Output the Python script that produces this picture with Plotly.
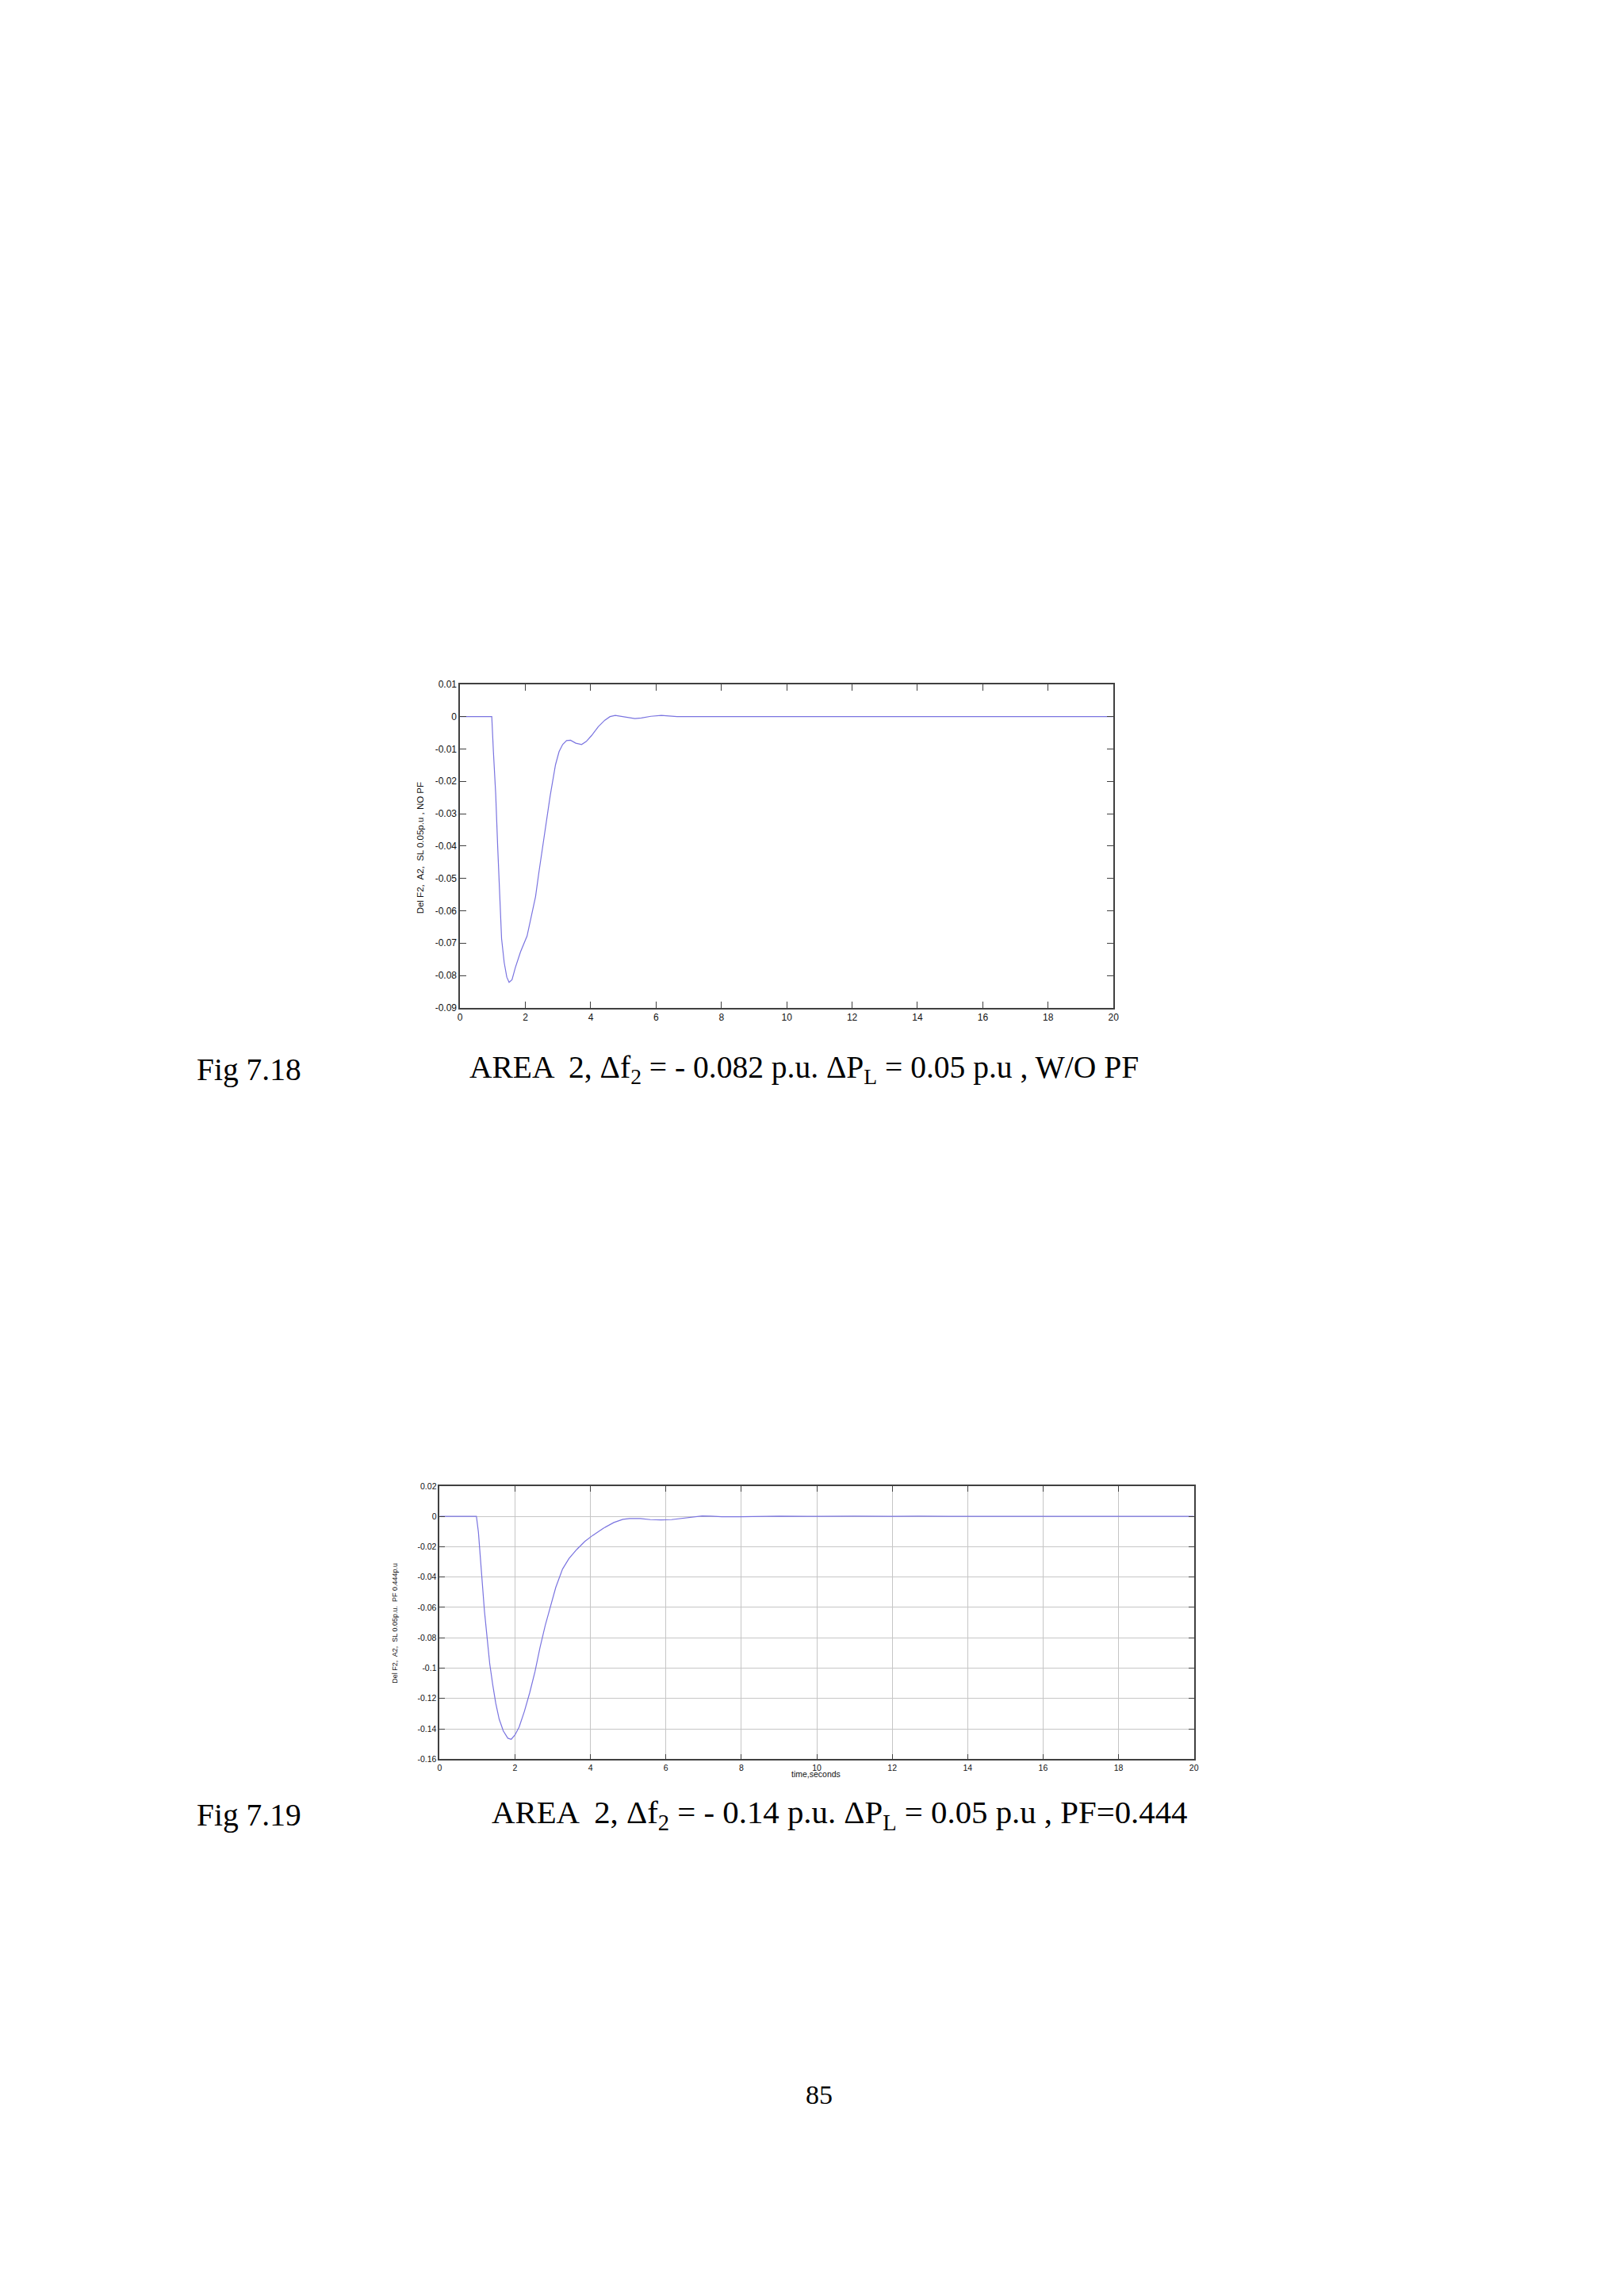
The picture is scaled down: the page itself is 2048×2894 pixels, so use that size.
import plotly.graph_objects as go

W, H = 2048, 2894

# ---- Fig 7.18 data (Area 2, no PF) ----
t1 = [0, 0.97, 1.02, 1.09, 1.15, 1.21, 1.27, 1.35, 1.43, 1.50, 1.59, 1.69, 1.85, 2.05,
      2.17, 2.31, 2.41, 2.54, 2.66, 2.76, 2.92, 3.03, 3.14, 3.26, 3.38, 3.54, 3.72,
      3.86, 4.02, 4.23, 4.43, 4.59, 4.75, 4.95, 5.19, 5.35, 5.55, 5.84, 6.16, 6.40,
      6.64, 20]
f1 = [0, 0, -0.0108, -0.0239, -0.040, -0.0564, -0.0686, -0.076, -0.0805, -0.0821,
      -0.0813, -0.0776, -0.0727, -0.0678, -0.0621, -0.0556, -0.0483, -0.0393, -0.032,
      -0.0243, -0.0149, -0.0108, -0.0086, -0.0074, -0.0073, -0.0082, -0.0086, -0.0077,
      -0.0059, -0.0031, -0.0011, 0.0, 0.0004, 0.0001, -0.0004, -0.0006, -0.0004,
      0.0001, 0.0004, 0.0002, 0, 0]

# ---- Fig 7.19 data (Area 2, PF = 0.444) ----
t2 = [0, 0.977, 1.03, 1.08, 1.13, 1.19, 1.26, 1.33, 1.41, 1.49, 1.58, 1.69, 1.81, 1.90,
      2.00, 2.11, 2.25, 2.39, 2.53, 2.66, 2.80, 2.94, 3.08, 3.26, 3.43, 3.64, 3.85,
      4.06, 4.34, 4.62, 4.86, 5.04, 5.32, 5.59, 5.87, 6.15, 6.43, 6.71, 6.96, 7.20,
      7.48, 7.97, 8.52, 9.0, 10.0, 11.0, 12.0, 12.7, 13.5, 20]
f2 = [0, 0, -0.0104, -0.0278, -0.0451, -0.0624, -0.0798, -0.0971, -0.111, -0.1232,
      -0.1336, -0.1414, -0.1462, -0.1469, -0.144, -0.1388, -0.1284, -0.1162, -0.1023,
      -0.0867, -0.072, -0.059, -0.0468, -0.0347, -0.0278, -0.0217, -0.0165, -0.0125,
      -0.0078, -0.004, -0.0019, -0.0014, -0.0014, -0.0021, -0.0023, -0.0021, -0.0012,
      -0.0002, 0.0003, 0.0002, -0.0002, -0.0002, 0.0002, 0.0002, 0.0, 0.0002, 0.0,
      0.0002, 0.0, 0.0]

x_ticks = [0, 2, 4, 6, 8, 10, 12, 14, 16, 18, 20]
y1_ticks = [0.01, 0, -0.01, -0.02, -0.03, -0.04, -0.05, -0.06, -0.07, -0.08, -0.09]
y1_labels = ["0.01", "0", "-0.01", "-0.02", "-0.03", "-0.04", "-0.05", "-0.06", "-0.07", "-0.08", "-0.09"]
y2_ticks = [0.02, 0, -0.02, -0.04, -0.06, -0.08, -0.1, -0.12, -0.14, -0.16]
y2_labels = ["0.02", "0", "-0.02", "-0.04", "-0.06", "-0.08", "-0.1", "-0.12", "-0.14", "-0.16"]

ylabel1 = "Del F2,  A2,  SL 0.05p.u , NO PF"
ylabel2 = "Del F2,  A2,  SL 0.05p.u.  PF 0.444p.u"
xlabel2 = "time,seconds"
cap1_num = "Fig 7.18"
cap1_txt = "AREA  2, Δf<sub>2</sub> = - 0.082 p.u. ΔP<sub>L</sub> = 0.05 p.u , W/O PF"
cap2_num = "Fig 7.19"
cap2_txt = "AREA  2, Δf<sub>2</sub> = - 0.14 p.u. ΔP<sub>L</sub> = 0.05 p.u , PF=0.444"
page_no = "85"

LINE = "#7a74e0"
FRAME = "#404040"
SANS = "Liberation Sans, Arial"
SERIF = "Liberation Serif, Times New Roman"


def px(x):
    return x / W


def py(y):
    return 1 - y / H


fig = go.Figure()
fig.add_trace(go.Scatter(x=t1, y=f1, mode="lines", line=dict(color=LINE, width=1.2),
                         xaxis="x", yaxis="y", showlegend=False))
fig.add_trace(go.Scatter(x=t2, y=f2, mode="lines", line=dict(color=LINE, width=1.2),
                         xaxis="x2", yaxis="y2", showlegend=False))


def axis_style(size, ticklen):
    return dict(showline=True, linecolor=FRAME, linewidth=1.5, mirror="allticks",
                ticks="inside", ticklen=ticklen, tickcolor=FRAME, tickwidth=1,
                zeroline=False, tickfont=dict(family=SANS, size=size, color="#111"))


fig.update_layout(
    width=W, height=H, autosize=False,
    margin=dict(l=0, r=0, t=0, b=0),
    paper_bgcolor="white", plot_bgcolor="white",
    xaxis=dict(domain=[px(572), px(1400)], range=[0, 20], tickvals=x_ticks, showgrid=False,
               anchor="y", **axis_style(12, 8)),
    yaxis=dict(domain=[py(1262), py(852)], range=[-0.09, 0.01], tickvals=y1_ticks,
               ticktext=y1_labels, showgrid=False, anchor="x", **axis_style(12, 8)),
    xaxis2=dict(domain=[px(546), px(1502)], range=[0, 20], tickvals=x_ticks, showgrid=True,
                gridcolor="#c6c6c6", gridwidth=1, anchor="y2", **axis_style(10.5, 7)),
    yaxis2=dict(domain=[py(2214), py(1868)], range=[-0.16, 0.02], tickvals=y2_ticks,
                ticktext=y2_labels, showgrid=True, gridcolor="#c6c6c6", gridwidth=1,
                anchor="x2", **axis_style(10.5, 7)),
)

cap_font = dict(family=SERIF, size=39.5, color="black")
cap_font2 = dict(family=SERIF, size=40.8, color="black")
annots = [
    dict(text=ylabel1, x=px(521), y=py(1059), textangle=-90,
         font=dict(family=SANS, size=11.5, color="#111")),
    dict(text=ylabel2, x=px(490), y=py(2042), textangle=-90,
         font=dict(family=SANS, size=9, color="#111")),
    dict(text=xlabel2, x=px(1023), y=py(2233),
         font=dict(family=SANS, size=10.5, color="#111")),
    dict(text=cap1_num, x=px(236), y=py(1340), xanchor="left", font=cap_font),
    dict(text=cap1_txt, x=px(582), y=py(1340), xanchor="left", font=cap_font),
    dict(text=cap2_num, x=px(236), y=py(2285), xanchor="left", font=cap_font),
    dict(text=cap2_txt, x=px(610), y=py(2285), xanchor="left", font=cap_font2),
    dict(text=page_no, x=px(1027), y=py(2639), font=dict(family=SERIF, size=34, color="black")),
]
for a in annots:
    a.setdefault("xanchor", "center")
    fig.add_annotation(xref="paper", yref="paper", showarrow=False, yanchor="middle", **a)

fig.write_html("out.html")
